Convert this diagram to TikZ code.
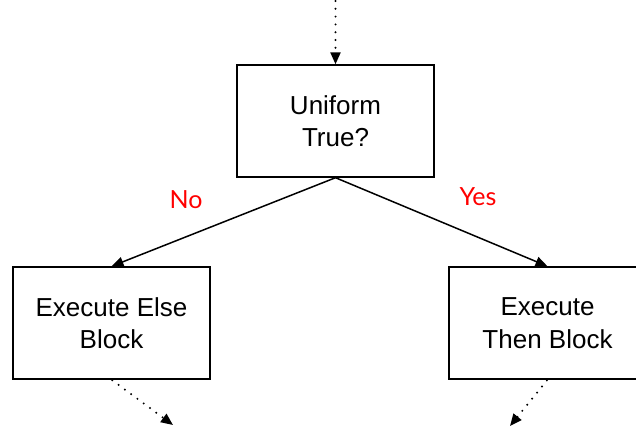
\documentclass[tikz,border=0pt]{standalone}
\usepackage{fontspec}
\setmainfont{Liberation Sans}
\newfontfamily\labelfont{Lato}
\usetikzlibrary{arrows.meta}
\begin{document}
\begin{tikzpicture}[x=1pt,y=-1pt,
  box/.style={draw, line width=1.4pt, minimum width=197pt, minimum height=112pt,
    inner sep=0pt, align=center, font=\fontsize{26}{32.5}\selectfont},
  link/.style={line width=1.5pt, -{Triangle[length=12pt,width=10pt]}},
  dotlink/.style={line width=2.2pt, dash pattern=on 0pt off 7.8pt, line cap=round,
    -{Triangle[length=12pt,width=10pt]}, shorten <=1pt},
  answer/.style={text=red, font=\labelfont\fontsize{25}{30}\selectfont}]
  \useasboundingbox (0,0) rectangle (636,429);
  \fill[white] (0,0) rectangle (636,429);

  % decision and the two branches
  \node[box] (cond) at (335.5,121) {Uniform\\True?};
  \node[box] (else) at (111.5,323) {Execute Else\\Block};
  \node[box] (then) at (547.5,323) {Execute\\Then Block};

  % loose ends of the dotted flow
  \coordinate (in) at (335.5,0);
  \coordinate (outL) at (173,425);
  \coordinate (outR) at (510,426);

  \draw[dotlink] (in) -- (cond.north);
  \draw[link] (cond.south) -- (else.north);
  \draw[link] (cond.south) -- (then.north);
  \draw[dotlink] (else.south) -- (outL);
  \draw[dotlink] (then.south) -- (outR);

  \node[answer] (no) at (186,200) {No};
  \node[answer] (yes) at (478,197) {Yes};
\end{tikzpicture}
\end{document}
